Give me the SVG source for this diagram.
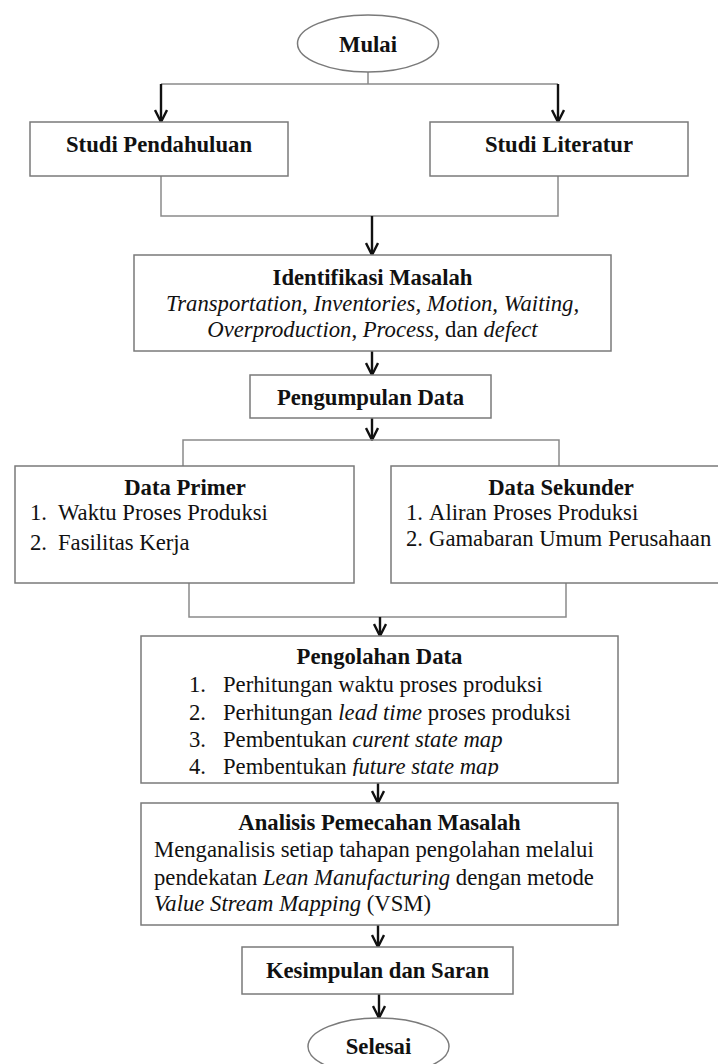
<svg xmlns="http://www.w3.org/2000/svg" width="718" height="1064" viewBox="0 0 718 1064">
<style>
  .box { fill: #ffffff; stroke: #7a7a7a; stroke-width: 1.5; }
  .conn { fill: none; stroke: #8a8a8a; stroke-width: 1.5; }
  .arr { fill: none; stroke: #111111; stroke-width: 2.4; marker-end: url(#ah); }
  text { font-family: "Liberation Serif", "Times New Roman", serif; font-size: 22.7px; fill: #111111; }
  .b { font-weight: bold; }
  .c { text-anchor: middle; }
  .i { font-style: italic; }
</style>
<defs>
  <marker id="ah" viewBox="0 0 14 14" refX="13" refY="7" markerWidth="14" markerHeight="14" markerUnits="userSpaceOnUse" orient="auto">
    <path d="M1,1 L13,7 L1,13" fill="none" stroke="#111111" stroke-width="2.4"/>
  </marker>
  <clipPath id="clipOlah">
    <rect x="141" y="636" width="477" height="140"/>
  </clipPath>
</defs>

<g id="connectors">
  <path class="conn" d="M368,72 V84 M161,84 H558"/>
  <path class="arr" d="M161,84 V122"/>
  <path class="arr" d="M558,84 V122"/>
  <path class="conn" d="M161,176 V216 H558 V176"/>
  <path class="arr" d="M372,216 V255"/>
  <path class="arr" d="M372,351 V375"/>
  <path class="arr" d="M372,418 V440"/>
  <path class="conn" d="M183,466 V440 H559 V466"/>
  <path class="conn" d="M189,583 V617 H566 V583"/>
  <path class="arr" d="M380,617 V636"/>
  <path class="arr" d="M378,783 V803"/>
  <path class="arr" d="M378,925 V947"/>
  <path class="arr" d="M379,994 V1018"/>
</g>

<g id="mulai">
  <ellipse class="box" cx="368" cy="43.5" rx="70.5" ry="28.5"/>
  <text class="b c" x="368" y="52">Mulai</text>
</g>

<g id="studi-pendahuluan">
  <rect class="box" x="30" y="122" width="258" height="54"/>
  <text class="b c" x="159" y="152">Studi Pendahuluan</text>
</g>

<g id="studi-literatur">
  <rect class="box" x="430" y="122" width="258" height="54"/>
  <text class="b c" x="559" y="152">Studi Literatur</text>
</g>

<g id="identifikasi-masalah">
  <rect class="box" x="134" y="255" width="477" height="96"/>
  <text class="b c" x="372.5" y="285">Identifikasi Masalah</text>
  <text class="c i" x="372.5" y="311">Transportation, Inventories, Motion, Waiting,</text>
  <text class="c" x="372.5" y="337"><tspan class="i">Overproduction</tspan>, <tspan class="i">Process</tspan>, dan <tspan class="i">defect</tspan></text>
</g>

<g id="pengumpulan-data">
  <rect class="box" x="250" y="375" width="241" height="43"/>
  <text class="b c" x="370.5" y="405">Pengumpulan Data</text>
</g>

<g id="data-primer">
  <rect class="box" x="15" y="466" width="339" height="117"/>
  <text class="b c" x="185" y="495">Data Primer</text>
  <text x="30" y="520">1.</text>
  <text x="58" y="520">Waktu Proses Produksi</text>
  <text x="30" y="550">2.</text>
  <text x="58" y="550">Fasilitas Kerja</text>
</g>

<g id="data-sekunder">
  <rect class="box" x="391" y="466" width="340" height="117"/>
  <text class="b c" x="561" y="495">Data Sekunder</text>
  <text x="406" y="520">1.</text>
  <text x="429" y="520">Aliran Proses Produksi</text>
  <text x="406" y="546">2.</text>
  <text x="429" y="546">Gamabaran Umum Perusahaan</text>
</g>

<g id="pengolahan-data">
  <rect class="box" x="141" y="636" width="477" height="147"/>
  <text class="b c" x="379.5" y="664">Pengolahan Data</text>
  <text x="189" y="692">1.</text>
  <text x="223" y="692">Perhitungan waktu proses produksi</text>
  <text x="189" y="720">2.</text>
  <text x="223" y="720">Perhitungan <tspan class="i">lead time</tspan> proses produksi</text>
  <text x="189" y="747">3.</text>
  <text x="223" y="747">Pembentukan <tspan class="i">curent state map</tspan></text>
  <g clip-path="url(#clipOlah)">
    <text x="189" y="774">4.</text>
    <text x="223" y="774">Pembentukan <tspan class="i">future state map</tspan></text>
  </g>
</g>

<g id="analisis-pemecahan-masalah">
  <rect class="box" x="141" y="803" width="477" height="122"/>
  <text class="b c" x="379.5" y="830">Analisis Pemecahan Masalah</text>
  <text x="154" y="857">Menganalisis setiap tahapan pengolahan melalui</text>
  <text x="154" y="885">pendekatan <tspan class="i">Lean Manufacturing</tspan> dengan metode</text>
  <text x="154" y="911"><tspan class="i">Value Stream Mapping</tspan> (VSM)</text>
</g>

<g id="kesimpulan-dan-saran">
  <rect class="box" x="242" y="947" width="271" height="47"/>
  <text class="b c" x="377.5" y="978">Kesimpulan dan Saran</text>
</g>

<g id="selesai">
  <ellipse class="box" cx="378.5" cy="1046.5" rx="70.5" ry="28.5"/>
  <text class="b c" x="378.5" y="1054">Selesai</text>
</g>
</svg>
